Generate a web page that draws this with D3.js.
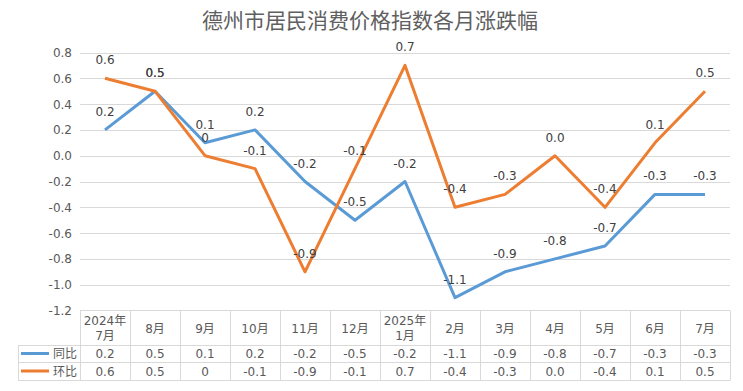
<!DOCTYPE html>
<html><head><meta charset="utf-8">
<script src="https://cdn.jsdelivr.net/npm/d3@7"></script>
<style>body{margin:0;background:#fff}text{font-family:"DejaVu Sans","Noto Sans CJK SC",sans-serif}</style>
</head><body><svg id="c" width="743" height="391"></svg>
<script>
const title = "德州市居民消费价格指数各月涨跌幅";
const categories = ["2024年\n7月","8月","9月","10月","11月","12月","2025年\n1月","2月","3月","4月","5月","6月","7月"];
const yoy = [0.2,0.5,0.1,0.2,-0.2,-0.5,-0.2,-1.1,-0.9,-0.8,-0.7,-0.3,-0.3];
const mom = [0.6,0.5,0,-0.1,-0.9,-0.1,0.7,-0.4,-0.3,0.0,-0.4,0.1,0.5];
const yoyLabels = ["0.2","0.5","0.1","0.2","-0.2","-0.5","-0.2","-1.1","-0.9","-0.8","-0.7","-0.3","-0.3"];
const momLabels = ["0.6","0.5","0","-0.1","-0.9","-0.1","0.7","-0.4","-0.3","0.0","-0.4","0.1","0.5"];
const yTicks = [0.8,0.6,0.4,0.2,0,-0.2,-0.4,-0.6,-0.8,-1.0,-1.2];
const seriesNames = ["同比","环比"];
const colors = ["#5b9bd5","#ed7d31"];

const svg = d3.select("#c");
const x = d3.scaleBand().domain(categories).range([80,730]).padding(0);
const y = d3.scaleLinear().domain([-1.2,0.8]).range([310.5,52.5]);
const cx = c => x(c) + x.bandwidth()/2;
const grid = "#d9d9d9", txt = "#595959";

svg.append("text").attr("x",370).attr("y",28).attr("text-anchor","middle")
  .attr("font-size",21).attr("fill","#606060").text(title);

// gridlines
svg.append("g").selectAll("line").data(yTicks.filter(t=>t>-1.2)).join("line")
  .attr("x1",80).attr("x2",730).attr("y1",d=>Math.round(y(d))+0.5).attr("y2",d=>Math.round(y(d))+0.5)
  .attr("stroke",grid).attr("stroke-width",1);
// y tick labels
svg.append("g").selectAll("text").data(yTicks).join("text")
  .attr("x",72).attr("y",d=>y(d)+4.5).attr("text-anchor","end")
  .attr("font-size",12).attr("fill",txt).text(d=>d.toFixed(1));

// lines
const series = [yoy, mom];
const labels = [yoyLabels, momLabels];
const line = d3.line().x((d,i)=>cx(categories[i])).y(d=>y(d));
series.forEach((s,k)=>{
  svg.append("path").datum(s).attr("d",line).attr("fill","none")
    .attr("stroke",colors[k]).attr("stroke-width",3).attr("stroke-linejoin","round");
});
series.forEach((s,k)=>{
  svg.append("g").selectAll("text").data(s).join("text")
    .attr("x",(d,i)=>cx(categories[i])).attr("y",d=>y(d)-14)
    .attr("text-anchor","middle").attr("font-size",12).attr("fill","#404040")
    .text((d,i)=>labels[k][i]);
});

// table
const t = svg.append("g");
const rowY = [310.5,345.5,362.5,380.5];
t.append("line").attr("x1",80).attr("x2",730).attr("y1",rowY[0]).attr("y2",rowY[0]).attr("stroke",grid);
[1,2,3].forEach(r=>t.append("line").attr("x1",18).attr("x2",730).attr("y1",rowY[r]).attr("y2",rowY[r]).attr("stroke",grid));
t.append("line").attr("x1",18.5).attr("x2",18.5).attr("y1",rowY[1]).attr("y2",rowY[3]).attr("stroke",grid);
const vx = categories.map(c=>x(c)).concat([730]);
t.selectAll("line.v").data(vx).join("line").attr("class","v")
  .attr("x1",d=>Math.round(d)+0.5).attr("x2",d=>Math.round(d)+0.5)
  .attr("y1",rowY[0]).attr("y2",rowY[3]).attr("stroke",grid);
categories.forEach(c=>{
  const parts = c.split("\n");
  const tx = t.append("text").attr("x",cx(c)).attr("text-anchor","middle").attr("font-size",12).attr("fill",txt);
  if(parts.length===2){
    tx.append("tspan").attr("x",cx(c)).attr("y",325).text(parts[0]);
    tx.append("tspan").attr("x",cx(c)).attr("y",340).text(parts[1]);
  } else tx.attr("y",333).text(parts[0]);
});
const rowText = [358,375.5];
series.forEach((s,k)=>{
  t.append("line").attr("x1",21).attr("x2",49).attr("y1",rowText[k]-4.5).attr("y2",rowText[k]-4.5)
    .attr("stroke",colors[k]).attr("stroke-width",3);
  t.append("text").attr("x",53).attr("y",rowText[k]).attr("font-size",12).attr("fill",txt).text(seriesNames[k]);
  t.append("g").selectAll("text").data(labels[k]).join("text")
    .attr("x",(d,i)=>cx(categories[i])).attr("y",rowText[k]).attr("text-anchor","middle")
    .attr("font-size",12).attr("fill",txt).text(d=>d);
});
</script></body></html>
